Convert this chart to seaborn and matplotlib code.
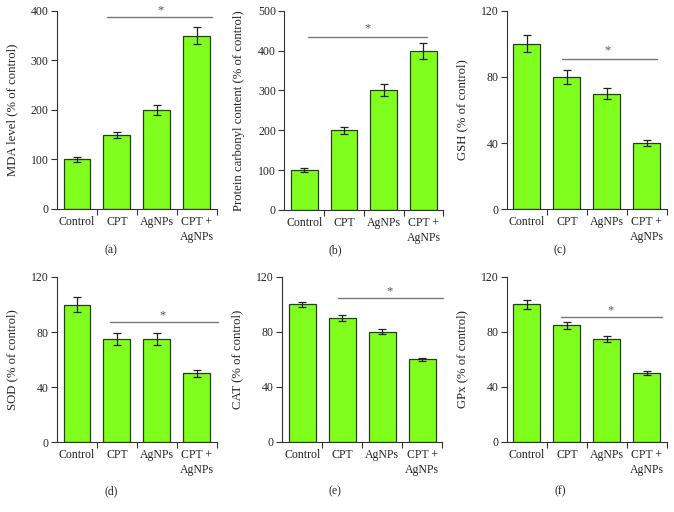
import numpy as np
import pandas as pd
import seaborn as sns
import matplotlib
matplotlib.use('Agg')
import matplotlib.pyplot as plt

sns.set_style('ticks')
plt.rcParams['font.family'] = ['Liberation Serif', 'DejaVu Serif']

groups = ['Control', 'CPT', 'AgNPs', 'CPT +\nAgNPs']

# values (% of control) with their error bars
mda = [100, 150, 200, 350]
mda_err = [4.7, 6, 10, 17.5]
carbonyl = [100, 200, 300, 400]
carbonyl_err = [5, 9, 15, 20]
gsh = [100, 80, 70, 40]
gsh_err = [5.2, 4, 3.5, 1.9]
sod = [100, 75, 75, 50]
sod_err = [5.2, 4, 4, 2.7]
cat = [100, 90, 80, 60]
cat_err = [2, 2, 1.8, 1.3]
gpx = [100, 85, 75, 50]
gpx_err = [3.2, 2.5, 2.2, 1.3]

ylabels = ['MDA level (% of control)', 'Protein carbonyl content (% of control)',
           'GSH (% of control)', 'SOD (% of control)', 'CAT (% of control)',
           'GPx (% of control)']
panel_tags = ['(a)', '(b)', '(c)', '(d)', '(e)', '(f)']

bar_color = '#80ff1e'
edge_color = '#2f3a1c'

fig = plt.figure(figsize=(6.74, 5.12), dpi=100)

# axes boxes in figure fractions (left, bottom, width, height)
boxes = [
    [0.0846, 0.592, 0.237, 0.387],
    [0.4218, 0.590, 0.236, 0.389],
    [0.7522, 0.591, 0.237, 0.388],
    [0.0846, 0.136, 0.237, 0.323],
    [0.4188, 0.137, 0.237, 0.322],
    [0.7522, 0.137, 0.237, 0.322],
]
series = [(mda, mda_err), (carbonyl, carbonyl_err), (gsh, gsh_err),
          (sod, sod_err), (cat, cat_err), (gpx, gpx_err)]
ylims = [400, 500, 120, 120, 120, 120]
ystep = [100, 100, 40, 40, 40, 40]
# significance bar: x start, x end, line height, star x, star y
sig = [(0.75, 3.375, 387, 2.08, 400),
       (0.085, 3.09, 435, 1.59, 457),
       (0.875, 3.25, 91, 2.02, 96),
       (0.825, 3.525, 87.5, 2.15, 92),
       (0.89, 3.52, 105, 2.19, 109.5),
       (0.85, 3.37, 91, 2.1, 95.5)]
tag_pos = [(0.165, 0.512), (0.497, 0.512), (0.831, 0.512),
           (0.165, 0.041), (0.497, 0.041), (0.831, 0.041)]

for i, box in enumerate(boxes):
    ax = fig.add_axes(box)
    vals, errs = series[i]
    df = pd.DataFrame({'group': groups, 'value': vals})
    sns.barplot(data=df, x='group', y='value', color=bar_color, width=0.675,
                edgecolor=edge_color, linewidth=0.9, saturation=1, ax=ax)
    ax.errorbar(range(len(vals)), vals, yerr=errs, fmt='none', ecolor='#222222',
                elinewidth=0.9, capsize=3.2, capthick=0.9)
    ax.set_xlim(-0.5, 3.5)
    ax.set_ylim(0, ylims[i])
    ax.set_yticks(np.arange(0, ylims[i] + 1, ystep[i]))
    ax.set_xticks(range(4))
    ax.set_xticklabels(groups, fontsize=8.5, linespacing=1.3)
    ax.set_xticks([0.5, 1.5, 2.5, 3.5], minor=True)
    ax.tick_params(axis='x', which='major', length=0, pad=5)
    ax.tick_params(axis='x', which='minor', length=4, width=0.8, color='#333333', direction='out')
    ax.tick_params(axis='y', length=4, width=0.8, color='#333333', labelsize=8.5, pad=2)
    for s in ['top', 'right']:
        ax.spines[s].set_visible(False)
    for s in ['left', 'bottom']:
        ax.spines[s].set_linewidth(0.8)
        ax.spines[s].set_color('#333333')
    ax.set_xlabel('')
    ax.set_ylabel(ylabels[i], fontsize=9.2)
    ax.yaxis.set_label_coords(-0.245, 0.5)

    x0, x1, yl, sx, sy = sig[i]
    ax.plot([x0, x1], [yl, yl], color='#777777', lw=1, clip_on=False)
    ax.text(sx, sy, '*', ha='center', va='center', fontsize=9, color='#555555', clip_on=False)

    fig.text(tag_pos[i][0], tag_pos[i][1], panel_tags[i], ha='center', va='center', fontsize=8.5)

fig.savefig('out.png', dpi=100)
